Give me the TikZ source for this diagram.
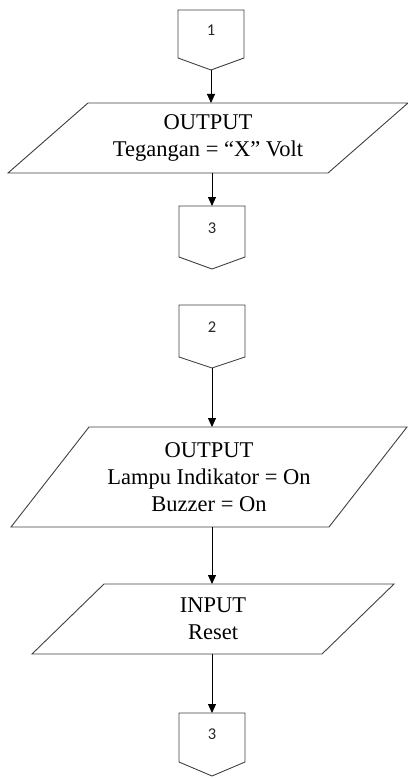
\documentclass[tikz,border=0pt]{standalone}
\usepackage{fontspec}
\setmainfont{Liberation Serif}
\newfontfamily\numfont{Carlito}
\usetikzlibrary{arrows.meta}
\begin{document}
\begin{tikzpicture}[x=1pt,y=-1pt,
  shapeline/.style={draw=black!75, line width=0.9pt, line join=miter},
  flowarrow/.style={draw=black, line width=0.9pt, -{Triangle[length=9pt,width=8pt]}},
  iobox/.style={inner sep=0pt, outer sep=0pt, align=center,
    font=\fontsize{22.5}{27}\selectfont, text=black},
  connbox/.style={inner sep=0pt, outer sep=0pt, minimum width=66pt},
  numtext/.style={inner sep=0pt, font=\numfont\fontsize{16.5}{18}\selectfont, text=black!85}
]
\useasboundingbox (0,0) rectangle (407,778);

% connector 1
\node[connbox, minimum height=48pt] (c1) at (211,34) {};
\draw[shapeline] (c1.north west) -- (c1.north east) -- (c1.south east)
  -- ([yshift=-12pt]c1.south) -- (c1.south west) -- cycle;
\coordinate (c1tip) at ([yshift=-12pt]c1.south);
\node[numtext] (n1) at ([yshift=3.5pt]c1.center) {1};

% output 1
\node[iobox, minimum width=320pt, minimum height=70pt] (p1) at (208,138)
  {OUTPUT\\Tegangan = “X” Volt};
\draw[shapeline] ([xshift=40pt]p1.north west) -- ([xshift=40pt]p1.north east)
  -- ([xshift=-40pt]p1.south east) -- ([xshift=-40pt]p1.south west) -- cycle;

% connector 3 (upper)
\node[connbox, minimum height=51pt] (c3a) at (212,231.5) {};
\draw[shapeline] (c3a.north west) -- (c3a.north east) -- (c3a.south east)
  -- ([yshift=-12pt]c3a.south) -- (c3a.south west) -- cycle;
\node[numtext] (n3a) at ([yshift=3.5pt]c3a.center) {3};

% connector 2
\node[connbox, minimum height=52pt] (c2) at (212,331) {};
\draw[shapeline] (c2.north west) -- (c2.north east) -- (c2.south east)
  -- ([yshift=-11pt]c2.south) -- (c2.south west) -- cycle;
\coordinate (c2tip) at ([yshift=-11pt]c2.south);
\node[numtext] (n2) at ([yshift=3.5pt]c2.center) {2};

% output 2
\node[iobox, minimum width=318pt, minimum height=100pt] (p2) at (209,477)
  {OUTPUT\\Lampu Indikator = On\\Buzzer = On};
\draw[shapeline] ([xshift=39pt]p2.north west) -- ([xshift=39pt]p2.north east)
  -- ([xshift=-39pt]p2.south east) -- ([xshift=-39pt]p2.south west) -- cycle;

% input
\node[iobox, minimum width=290pt, minimum height=70pt] (p3) at (213,619)
  {INPUT\\Reset};
\draw[shapeline] ([xshift=36pt]p3.north west) -- ([xshift=36pt]p3.north east)
  -- ([xshift=-36pt]p3.south east) -- ([xshift=-36pt]p3.south west) -- cycle;

% connector 3 (lower)
\node[connbox, minimum height=49pt] (c3b) at (212,737.5) {};
\draw[shapeline] (c3b.north west) -- (c3b.north east) -- (c3b.south east)
  -- ([yshift=-14pt]c3b.south) -- (c3b.south west) -- cycle;
\node[numtext] (n3b) at ([yshift=3.5pt]c3b.center) {3};

% arrows
\draw[flowarrow] (c1tip) -- (c1tip |- p1.north);
\draw[flowarrow] (p1.south -| c3a.north) -- (c3a.north);
\draw[flowarrow] (c2tip) -- (c2tip |- p2.north);
\draw[flowarrow] (p2.south -| c2tip) -- (c2tip |- p3.north);
\draw[flowarrow] (p3.south -| c3b.north) -- (c3b.north);
\end{tikzpicture}
\end{document}
